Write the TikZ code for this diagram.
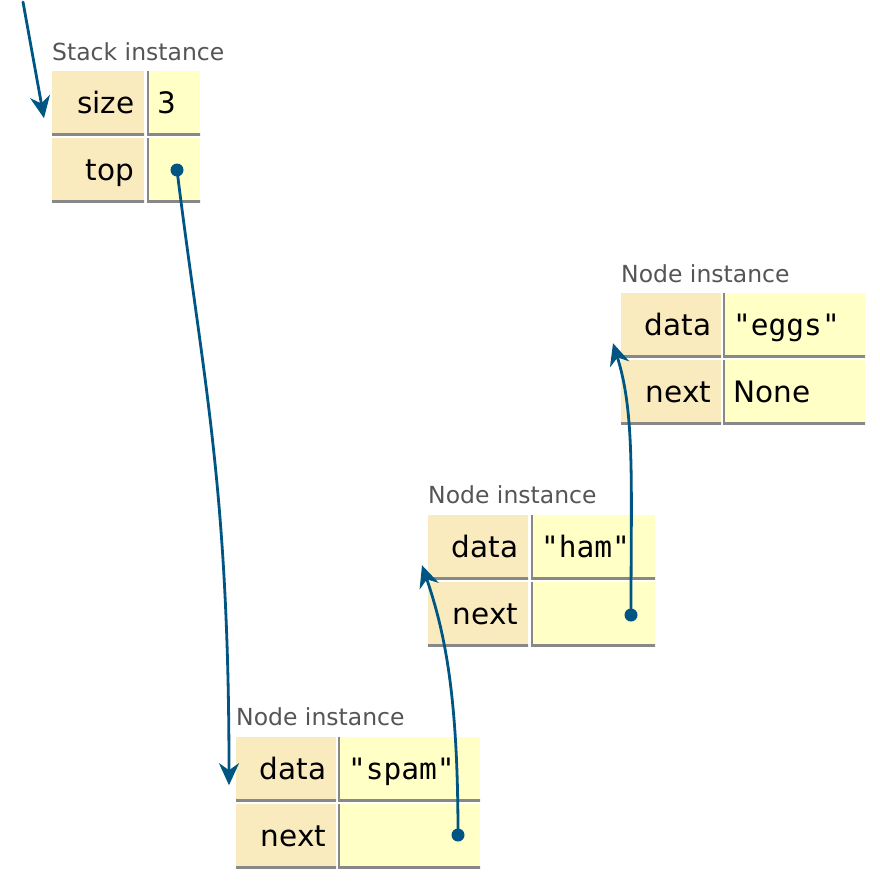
\documentclass[tikz,border=0pt]{standalone}
\usepackage{fontspec}
\setmainfont{DejaVu Sans}
\setmonofont{DejaVu Sans Mono}
\usetikzlibrary{arrows.meta}
\definecolor{keyfill}{RGB}{250,235,191}
\definecolor{valfill}{RGB}{255,255,198}
\definecolor{rulegray}{RGB}{136,136,136}
\definecolor{ptrblue}{RGB}{0,85,131}
\definecolor{labelgray}{RGB}{85,85,85}

\begin{document}
\begin{tikzpicture}[line cap=round,line join=round,>={Stealth[length=22pt,width=20pt,inset=7pt]},x=1pt,y=-1pt,
		cell/.style={inner xsep=10pt,inner ysep=0pt,minimum height=64pt,text height=22pt,text depth=2pt,anchor=north west,font=\fontsize{29.5}{34}\selectfont},
		keycell/.style={cell,fill=keyfill,align=right,text width=#1,path picture={\draw[line width=4pt,rulegray] (path picture bounding box.south west) -- (path picture bounding box.south east);}},
		valcell/.style={cell,fill=valfill,align=left,text width=#1,path picture={\draw[line width=4pt,rulegray] (path picture bounding box.north west) -- (path picture bounding box.south west) -- (path picture bounding box.south east);}},
		typelabel/.style={anchor=base west,inner sep=0pt,text=labelgray,font=\fontsize{23.5}{28}\selectfont},
		ptrdot/.style={circle,fill=ptrblue,inner sep=0pt,minimum size=13pt},
		ptr/.style={->,line width=2.8pt,ptrblue}]
		\useasboundingbox (0,0) rectangle (880,884);
		% Stack instance
		\node[typelabel] (stacklabel) at (52,60) {Stack instance};
		\node[keycell=72pt] (stacksize) at (52,71) {size};
		\node[valcell=33pt] (stacksizev) at (147,71) {3};
		\node[keycell=72pt] (stacktop) at (52,138) {top};
		\node[valcell=33pt] (stacktopv) at (147,138) {};
		% Node instance "spam"
		\node[typelabel] (spamlabel) at (236,725) {Node instance};
		\node[keycell=80pt] (spamdata) at (236,737) {data};
		\node[valcell=122pt] (spamdatav) at (338,737) {\ttfamily "spam"};
		\node[keycell=80pt] (spamnext) at (236,804) {next};
		\node[valcell=122pt] (spamnextv) at (338,804) {};
		% Node instance "ham"
		\node[typelabel] (hamlabel) at (428,503) {Node instance};
		\node[keycell=80pt] (hamdata) at (428,515) {data};
		\node[valcell=104pt] (hamdatav) at (531,515) {\ttfamily "ham"};
		\node[keycell=80pt] (hamnext) at (428,582) {next};
		\node[valcell=104pt] (hamnextv) at (531,582) {};
		% Node instance "eggs"
		\node[typelabel] (eggslabel) at (621,282) {Node instance};
		\node[keycell=80pt] (eggsdata) at (621,293) {data};
		\node[valcell=122pt] (eggsdatav) at (723,293) {\ttfamily "eggs"};
		\node[keycell=80pt] (eggsnext) at (621,360) {next};
		\node[valcell=122pt] (eggsnextv) at (723,360) {None};
		% pointers
		\coordinate (entry) at (23,2);
		\node[ptrdot] (topptr) at (177,170) {};
		\node[ptrdot] (spamptr) at (458,835) {};
		\node[ptrdot] (hamptr) at (631,615) {};
		\draw[ptr] (entry) -- ([shift={(-8,15)}]stacksize.west);
		\draw[ptr] (topptr.center) .. controls +(26,210) and +(0,-300) .. ([shift={(-7,16)}]spamdata.west);
		\draw[ptr] (spamptr.center) .. controls +(0,-135) and +(24,70) .. ([shift={(-6,18)}]hamdata.west);
		\draw[ptr] (hamptr.center) .. controls +(0,-135) and +(22,70) .. ([shift={(-8,18)}]eggsdata.west);
	\end{tikzpicture}
\end{document}
